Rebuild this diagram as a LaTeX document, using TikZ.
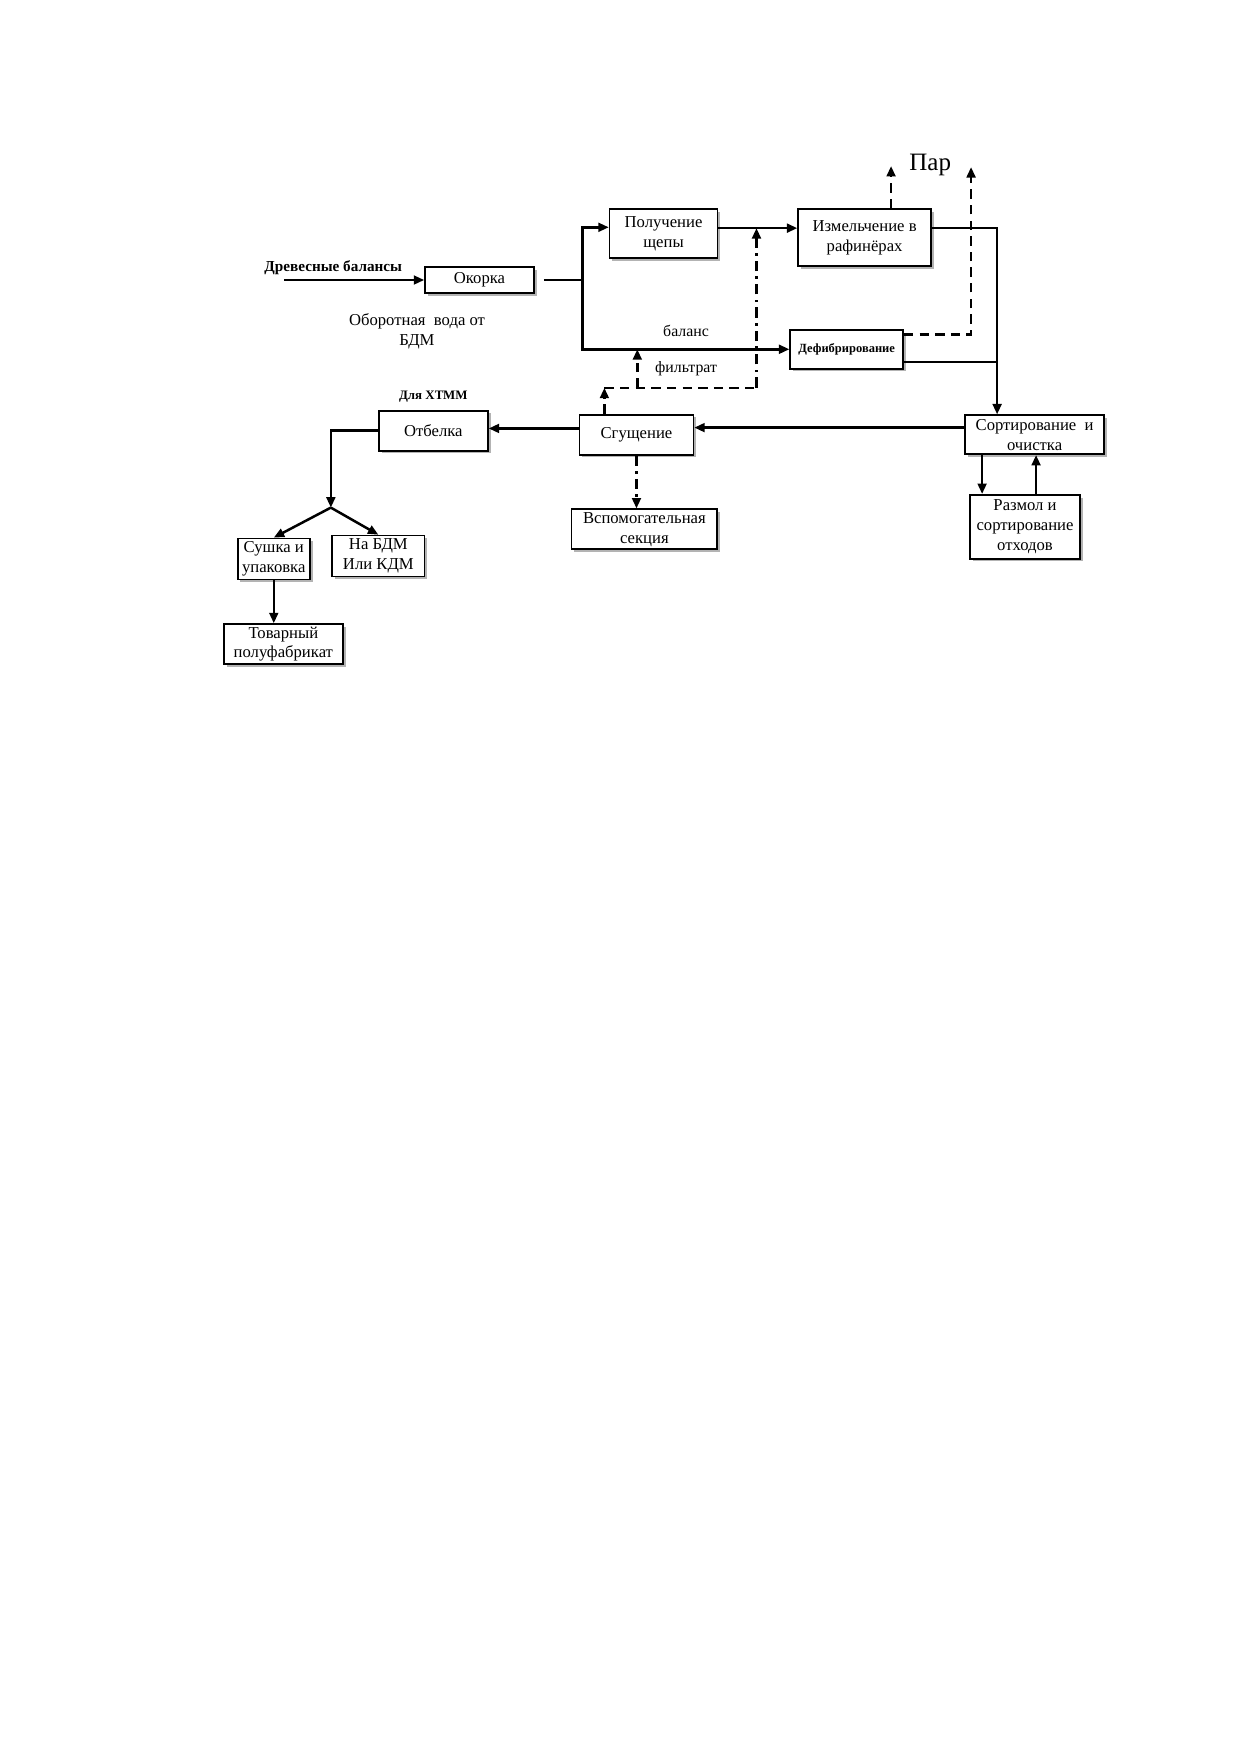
\documentclass[tikz,border=0pt]{standalone}
\usepackage{fontspec}
\setmainfont{Liberation Serif}
\usepackage{tikz}
\usetikzlibrary{shapes,arrows,arrows.meta,positioning,shadows}

\tikzset{
	main node/.style={draw, rectangle, line width=.8pt, fill=white, align=center, inner sep=.5pt, font=\fontsize{8}{9.5}\selectfont, drop shadow={shadow xshift=1.3pt, shadow yshift=-1.3pt, fill=black!50, opacity=.6}},
	text node/.style={align=center, inner sep=0pt},
	steam line/.style={dash pattern=on 4.5pt off 3pt},
	chain line/.style={dash pattern=on 5pt off 2.5pt on 1.2pt off 2.5pt}
}

\begin{document}
\begin{tikzpicture}[->,>={Triangle[length=5pt,width=4.2pt]},x=0.48pt,y=-0.48pt,line width=1.2pt,node distance=.3cm]
				\useasboundingbox (0,0) rectangle (1240,1754);
				
				\node[main node, minimum width=52.3pt, minimum height=12.5pt] (1) at (479.5,280) {Окорка};
				\node[main node, minimum width=51.8pt, minimum height=23.5pt] (2) [right=35.5pt of 1, yshift=22.3pt] {Получение\\щепы};
				\node[main node, minimum width=63.8pt, minimum height=27.4pt] (3) [right=37.9pt of 2, yshift=-1.9pt] {Измельчение в\\рафинёрах};
				\node[main node, minimum width=54.2pt, minimum height=18.7pt, font=\bfseries\fontsize{6}{7}\selectfont] (4) [below=29.8pt of 3, xshift=-8.6pt] {Дефибрирование};
				
				\node[main node, minimum width=54.7pt, minimum height=19.2pt] (5) [below=74.4pt of 2, xshift=-13pt] {Сгущение};
				\node[main node, minimum width=66.7pt, minimum height=18.7pt] (6) [right=129.6pt of 5] {Сортирование\ \ и\\очистка};
				\node[main node, minimum width=52.8pt, minimum height=30.7pt] (7) [below=18.7pt of 6, xshift=-4.6pt] {Размол и\\сортирование\\отходов};
				\node[main node, minimum width=70pt, minimum height=19.2pt] (8) [below=25.4pt of 5, xshift=3.8pt] {Вспомогательная\\секция};
				
				\node[main node, minimum width=52.3pt, minimum height=19.2pt] (9) [left=43.2pt of 5, yshift=1.9pt] {Отбелка};
				\node[main node, minimum width=34.6pt, minimum height=19.7pt, inner sep=0pt] (10) [below=41.3pt of 9, xshift=-76.6pt] {Сушка и\\упаковка};
				\node[main node, minimum width=44.2pt, minimum height=19.7pt] (11) [right=10pt of 10, yshift=1.4pt] {На БДМ\\Или КДМ};
				\node[main node, minimum width=57.1pt, minimum height=19.2pt] (12) [below=20.6pt of 10, xshift=4.6pt] {Товарный\\полуфабрикат};
				
				\node[text node, font=\bfseries\fontsize{7.3}{8}\selectfont] (13) [left=10pt of 1, yshift=5.8pt] {Древесные балансы};
				\node[text node, font=\fontsize{8}{9.5}\selectfont] (14) [below=9pt of 1, xshift=-30pt] {Оборотная\ \ вода от\\БДМ};
				\node[text node, font=\bfseries\fontsize{6.2}{7}\selectfont] (15) [above=3pt of 9] {Для ХТММ};
				\node[text node, font=\fontsize{12}{14}\selectfont] (16) [above=15pt of 3, xshift=31.5pt] {Пар};
				
				\coordinate[left=67.2pt of 1] (vhod);
				\coordinate[right=4.3pt of 1] (okout);
				\coordinate[right=23pt of 1] (razv);
				\coordinate[above=3pt of 2.west] (shin);
				\coordinate[above=2.6pt of 2.east] (shout);
				\coordinate[above=4.6pt of 3.east] (izout);
				\coordinate[above=7pt of 4.east] (defpar);
				\coordinate[below=6pt of 4.east] (defout);
				\coordinate[left=18pt of 6.north] (uzel);
				\coordinate[above=20.2pt of 3, xshift=12.7pt] (par1);
				\coordinate[above=19.7pt of 3, xshift=51.1pt] (par2);
				\coordinate[above=12.5pt of 5.north, xshift=-15.4pt] (f2);
				\coordinate[right=15.8pt of f2] (f4);
				\coordinate[right=73pt of f2] (f3);
				\coordinate[left=25.2pt of 6.south] (s1);
				\coordinate[right=5.3pt of 7.north] (s2);
				\coordinate[above=3.4pt of 6.west] (sortout);
				\coordinate[above=3pt of 5.west] (sgout);
				\coordinate[below=26.9pt of 9, xshift=-49.2pt] (razv2);
				
				\path
				(vhod) edge (1)
				(okout) edge[-] (razv)
				(shout) edge (shout -| 3.west)
				(sortout) edge (sortout -| 5.east)
				(sgout) edge (sgout -| 9.east)
				(razv2) edge (10.north)
				(razv2) edge (11.north)
				(10) edge (10 |- 12.north)
				(s1) edge (s1 |- 7.north)
				(s2) edge (s2 |- 6.south)
				
				(5) edge[chain line] (5 |- 8.north)
				(f2 |- 5.north) edge[steam line] (f2)
				(f2) edge[steam line,-] (f3)
				(f4) edge[steam line] (f4 |- 4.west)
				(f3) edge[chain line] (f3 |- shout)
				(par1 |- 3.north) edge[steam line] (par1);
				
				\draw (razv) |- (shin);
				\draw (razv) |- (4.west) node[text node, font=\fontsize{7.6}{9}\selectfont, pos=.75, above=5.5pt] (17) {баланс} node[text node, font=\fontsize{7.6}{9}\selectfont, pos=.75, below=5.5pt] (18) {фильтрат};
				\draw (izout) -| (uzel);
				\draw[-] (defout) -- (defout -| uzel);
				\draw[steam line] (defpar) -| (par2);
				\draw (9.west) -| (razv2);
				
				\end{tikzpicture}
\end{document}
